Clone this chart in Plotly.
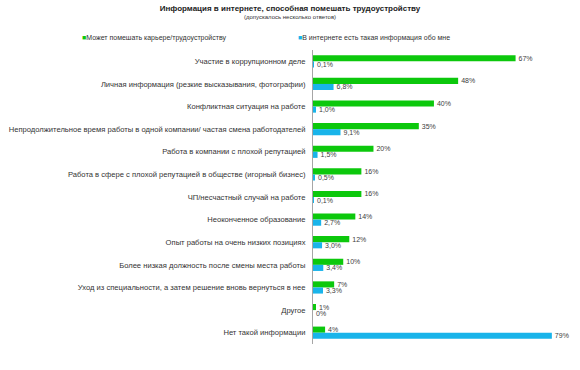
import plotly.graph_objects as go

categories = [
    "Участие в коррупционном деле",
    "Личная информация (резкие высказывания, фотографии)",
    "Конфликтная ситуация на работе",
    "Непродолжительное время работы в одной компании/ частая смена работодателей",
    "Работа в компании с плохой репутацией",
    "Работа в сфере с плохой репутацией в обществе (игорный бизнес)",
    "ЧП/несчастный случай на работе",
    "Неоконченное образование",
    "Опыт работы на очень низких позициях",
    "Более низкая должность после смены места работы",
    "Уход из специальности, а затем решение вновь вернуться в нее",
    "Другое",
    "Нет такой информации",
]
career = [67, 48, 40, 35, 20, 16, 16, 14, 12, 10, 7, 1, 4]
online = [0.1, 6.8, 1.0, 9.1, 1.5, 0.5, 0.1, 2.7, 3.0, 3.4, 3.3, 0, 79]

name_career = "Может помешать карьере/трудоустройству"
name_online = "В интернете есть такая информация обо мне"
title = "Информация в интернете, способная помешать трудоустройству"
subtitle = "(допускалось несколько ответов)"

GREEN = "#0cc80c"
BLUE = "#19b4ea"
FONT = "Liberation Sans, Arial, sans-serif"


def fmt_int(v):
    return f"{v:.0f}%"


def fmt_dec(v):
    if v == 0 or v >= 10:
        return f"{v:.0f}%"
    return f"{v:.1f}".replace(".", ",") + "%"


fig = go.Figure()
fig.add_trace(go.Bar(
    y=categories, x=career, orientation="h", name=name_career,
    marker=dict(color=GREEN, line=dict(width=0)),
    text=[fmt_int(v) for v in career], textposition="outside",
    textfont=dict(size=7, color="#404040", family=FONT),
    constraintext="none", cliponaxis=False,
))
fig.add_trace(go.Bar(
    y=categories, x=online, orientation="h", name=name_online,
    marker=dict(color=BLUE, line=dict(width=0)),
    text=[fmt_dec(v) for v in online], textposition="outside",
    textfont=dict(size=7, color="#404040", family=FONT),
    constraintext="none", cliponaxis=False,
))

fig.update_layout(
    width=580, height=370,
    margin=dict(l=313, r=10, t=50, b=26, autoexpand=False),
    paper_bgcolor="white", plot_bgcolor="white",
    barmode="group", bargap=0.46, bargroupgap=0,
    showlegend=False,
    font=dict(family=FONT, color="#333333"),
    title=dict(
        text=f"<b>{title}</b>",
        font=dict(size=8, color="#222222", family=FONT),
        x=0.5, xref="container", xanchor="center",
        y=1 - 8 / 370, yref="container", yanchor="middle",
    ),
    annotations=[
        dict(text=subtitle, xref="paper", yref="paper", showarrow=False,
             x=(290 - 313) / 257, y=1 + (50 - 17) / 294, xanchor="center", yanchor="middle",
             font=dict(size=6, color="#333333", family=FONT)),
        dict(text=f"<span style='color:{GREEN}'>■</span>{name_career}",
             xref="paper", yref="paper", showarrow=False,
             x=(80 - 313) / 257, y=1 + (50 - 38) / 294, xanchor="left", yanchor="middle",
             font=dict(size=7, color="#333333", family=FONT)),
        dict(text=f"<span style='color:{BLUE}'>■</span>{name_online}",
             xref="paper", yref="paper", showarrow=False,
             x=(296 - 313) / 257, y=1 + (50 - 38) / 294, xanchor="left", yanchor="middle",
             font=dict(size=7, color="#333333", family=FONT)),
    ],
    xaxis=dict(range=[0, 85], visible=False, showgrid=False, zeroline=False,
               fixedrange=True, automargin=False),
    yaxis=dict(
        autorange="reversed", showgrid=False, zeroline=False, automargin=False,
        showline=True, linecolor="#a6a6a6", linewidth=1,
        ticks="outside", ticklen=5, tickcolor="rgba(0,0,0,0)",
        tickfont=dict(size=7.6, color="#333333", family=FONT),
        fixedrange=True,
    ),
)

fig.write_html(
    "out.html",
    config={"displayModeBar": False},
    post_script="document.body.style.margin='0';document.body.style.overflow='hidden';",
)
